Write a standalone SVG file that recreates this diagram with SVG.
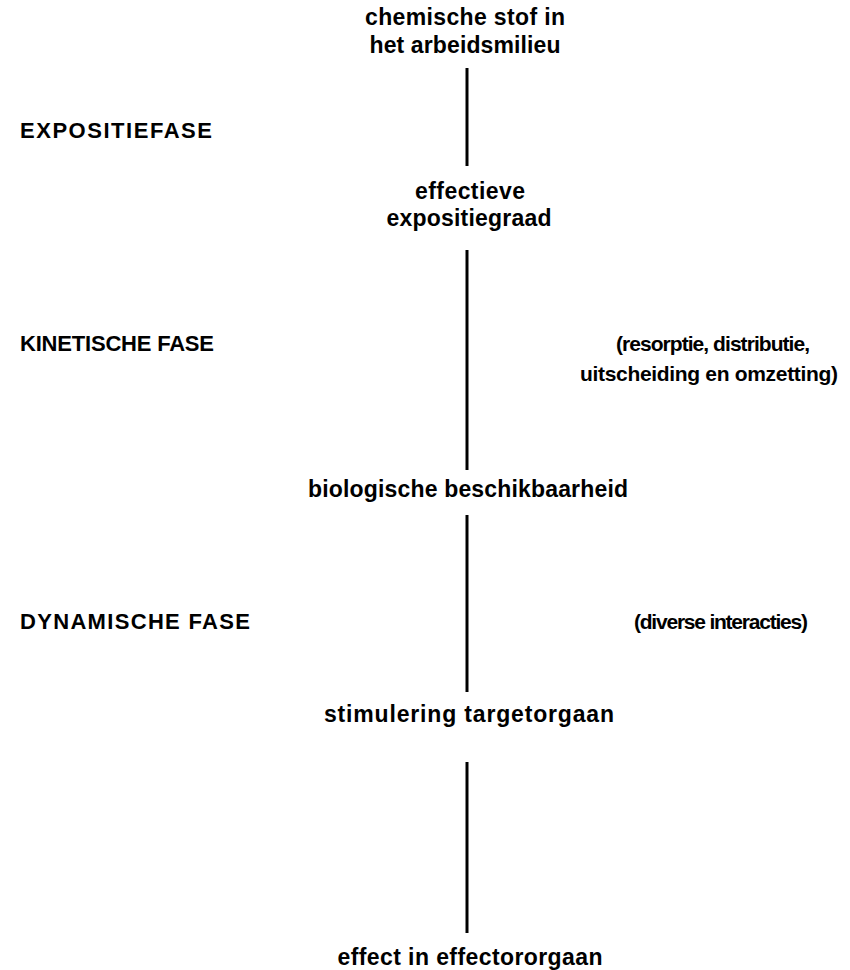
<svg xmlns="http://www.w3.org/2000/svg" width="850" height="970" viewBox="0 0 850 970">
<style>
text{font-family:"Liberation Sans",Arial,sans-serif;font-size:23px;font-weight:bold;fill:#000}
.c{text-anchor:middle}
.n{font-size:21px}
.l{font-size:22px}
.conn line{stroke:#000;stroke-width:3}
</style>
<rect width="850" height="970" fill="#fff"/>
<g id="node-chemische"><text class="c" x="465" y="25" textLength="200">chemische stof in</text><text class="c" x="465" y="53" textLength="191">het arbeidsmilieu</text></g>
<g id="label-expositiefase"><text class="l" x="20" y="138" textLength="192">EXPOSITIEFASE</text></g>
<g id="node-effectieve"><text class="c" x="470" y="199" textLength="110">effectieve</text><text class="c" x="469" y="226" textLength="165">expositiegraad</text></g>
<g id="label-kinetische"><text class="l" x="20" y="351" textLength="194">KINETISCHE FASE</text></g>
<g id="note-kinetische"><text class="c n" x="713" y="351" textLength="194">(resorptie, distributie,</text><text class="c n" x="709" y="381" textLength="258">uitscheiding en omzetting)</text></g>
<g id="node-biologische"><text class="c" x="468" y="497" textLength="320">biologische beschikbaarheid</text></g>
<g id="label-dynamische"><text class="l" x="20" y="629" textLength="230">DYNAMISCHE FASE</text></g>
<g id="note-dynamische"><text class="c n" x="721" y="629" textLength="174">(diverse interacties)</text></g>
<g id="node-stimulering"><text class="c" x="469" y="722" textLength="290">stimulering targetorgaan</text></g>
<g id="node-effect"><text class="c" x="470" y="965" textLength="265">effect in effectororgaan</text></g>
<g id="connectors" class="conn">
<line x1="467" y1="68" x2="467" y2="166"/>
<line x1="467" y1="250" x2="467" y2="470"/>
<line x1="467" y1="515" x2="467" y2="692"/>
<line x1="467" y1="762" x2="467" y2="933"/>
</g>
</svg>
